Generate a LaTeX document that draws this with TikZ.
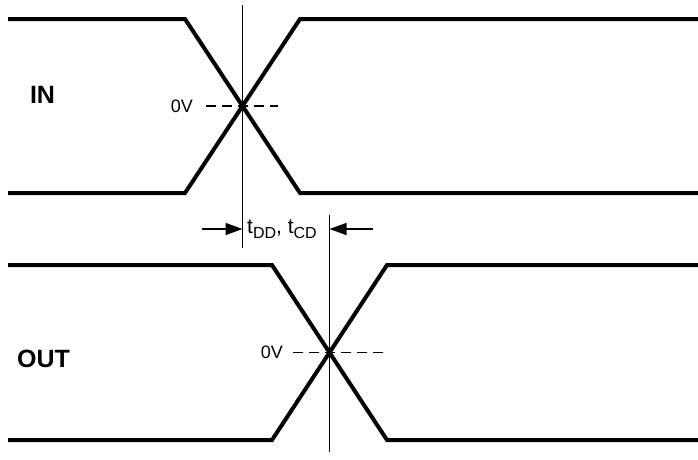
\documentclass[tikz,border=0pt]{standalone}
\usepackage{fontspec}
\setmainfont{Liberation Sans}
\usetikzlibrary{arrows.meta}

\begin{document}
\begin{tikzpicture}[x=1pt, y=-1pt,
    wave/.style={line width=4pt, line join=miter},
    marker/.style={line width=1.4pt},
    zeroline/.style={line width=1.4pt, dash pattern=on 10pt off 6pt},
    timearrow/.style={line width=1.4pt, -{Triangle[length=17pt, width=12pt]}},
    vlabel/.style={font=\fontsize{18}{18}\selectfont, inner sep=0pt},
    siglabel/.style={font=\fontsize{25}{25}\selectfont\bfseries, inner sep=0pt}]
    \useasboundingbox (0,0) rectangle (698,459);
    % IN waveform
    \draw[wave] (8,19) -- (185,19) -- (300,193) -- (698,193);
    \draw[wave] (8,193) -- (185,193) -- (300,19) -- (698,19);
    \coordinate (inx) at (242.5,106);
    \draw[zeroline] (206,106) -- (278,106);
    \node[vlabel, anchor=east] (inzero) at (193,106) {0V};
    \node[siglabel] (inname) at (42.5,94.5) {IN};
    \coordinate (intop) at (242.5,5);
    \coordinate (inbot) at (242.5,248);
    \draw[marker] (intop) -- (inbot);
    % OUT waveform
    \draw[wave] (8,265) -- (272,265) -- (387,440) -- (698,440);
    \draw[wave] (8,440) -- (272,440) -- (387,265) -- (698,265);
    \coordinate (outx) at (329.5,352.5);
    \draw[zeroline] (293,352.5) -- (384,352.5);
    \node[vlabel, anchor=east] (outzero) at (283,352.5) {0V};
    \node[siglabel] (outname) at (43.5,359) {OUT};
    \coordinate (outtop) at (329.5,215);
    \coordinate (outbot) at (329.5,452);
    \draw[marker] (outtop) -- (outbot);
    % delay
    \coordinate (lefttail) at (202,229);
    \coordinate (righttail) at (373,229);
    \draw[timearrow] (lefttail) -- (lefttail -| inbot);
    \draw[timearrow] (righttail) -- (righttail -| outbot);
    \node[anchor=west, inner sep=0pt, font=\fontsize{21}{21}\selectfont] (delay) at (247,229)
        {t\raisebox{-5pt}{\fontsize{16}{16}\selectfont DD}, t\raisebox{-5pt}{\fontsize{16}{16}\selectfont CD}};
\end{tikzpicture}
\end{document}
